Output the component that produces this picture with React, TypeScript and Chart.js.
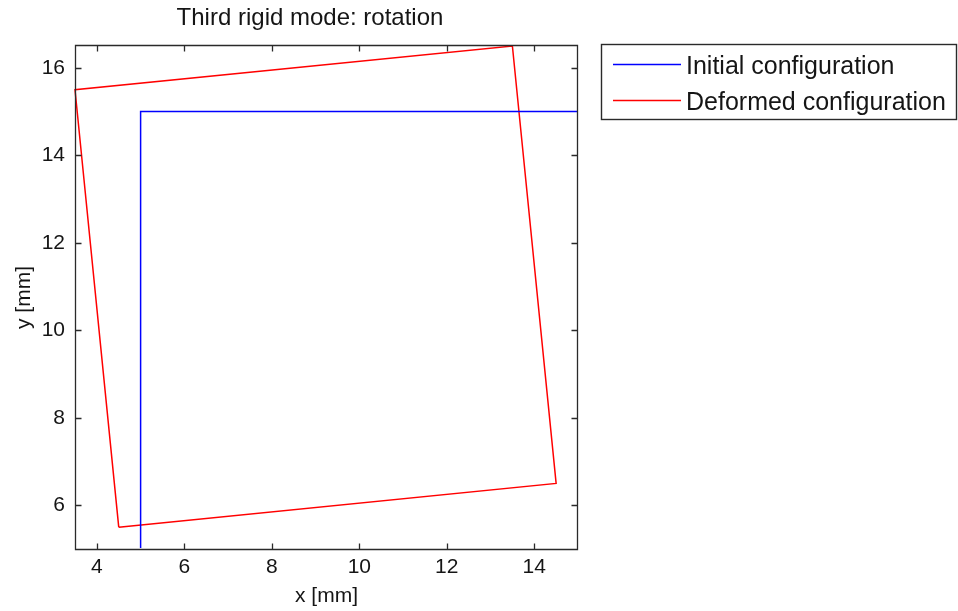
import { useEffect, useRef } from "react";
import { Chart, registerables } from "chart.js";

Chart.register(...registerables);

// Plot text
const TITLE = "Third rigid mode: rotation";
const X_LABEL = "x [mm]";
const Y_LABEL = "y [mm]";

// Axis limits and ticks
const X_RANGE = [3.5, 15];
const Y_RANGE = [5, 16.5];
const X_TICKS = [4, 6, 8, 10, 12, 14];
const Y_TICKS = [6, 8, 10, 12, 14, 16];

// Square element outline, closed polygon (mm)
const INITIAL_LABEL = "Initial configuration";
const INITIAL_X = [5, 15, 15, 5, 5];
const INITIAL_Y = [5, 5, 15, 15, 5];

// Same outline after the rigid rotation mode (mm)
const DEFORMED_LABEL = "Deformed configuration";
const DEFORMED_X = [4.5, 14.5, 13.5, 3.5, 4.5];
const DEFORMED_Y = [5.5, 6.5, 16.5, 15.5, 5.5];

const FONT = "'Liberation Sans', Arial, Helvetica, sans-serif";
const TEXT_COLOR = "#151515";
const AXIS_COLOR = "#2a2a2a";

const toPoints = (xs: number[], ys: number[]) => xs.map((x, i) => ({ x, y: ys[i] }));

// Draws the boxed axes with inward ticks, the title and the boxed legend
const framePlugin = {
  id: "frame",
  afterDatasetsDraw(chart: any) {
    const { ctx, chartArea } = chart;
    const xs = chart.scales.x;
    const ys = chart.scales.y;
    const L = Math.round(chartArea.left) + 0.5;
    const R = Math.round(chartArea.right) - 0.5;
    const T = Math.round(chartArea.top) - 0.5;
    const B = Math.round(chartArea.bottom) + 0.5;
    const tick = 6;
    ctx.save();
    ctx.strokeStyle = AXIS_COLOR;
    ctx.lineWidth = 1.3;
    ctx.beginPath();
    ctx.rect(L, T, R - L, B - T);
    for (const v of X_TICKS) {
      const px = Math.round(xs.getPixelForValue(v)) + 0.5;
      ctx.moveTo(px, B);
      ctx.lineTo(px, B - tick);
      ctx.moveTo(px, T);
      ctx.lineTo(px, T + tick);
    }
    for (const v of Y_TICKS) {
      const py = Math.round(ys.getPixelForValue(v)) + 0.5;
      ctx.moveTo(L, py);
      ctx.lineTo(L + tick, py);
      ctx.moveTo(R, py);
      ctx.lineTo(R - tick, py);
    }
    ctx.stroke();
    ctx.restore();
  },
  afterDraw(chart: any) {
    const { ctx } = chart;
    ctx.save();
    // title
    ctx.fillStyle = TEXT_COLOR;
    ctx.font = `24px ${FONT}`;
    ctx.textAlign = "center";
    ctx.textBaseline = "alphabetic";
    ctx.fillText(TITLE, 310, 25);

    // legend
    const bx = 601.5, by = 44.5, bw = 355, bh = 75;
    ctx.fillStyle = "#ffffff";
    ctx.fillRect(bx, by, bw, bh);
    ctx.strokeStyle = AXIS_COLOR;
    ctx.lineWidth = 1.4;
    ctx.strokeRect(bx, by, bw, bh);
    ctx.font = `25px ${FONT}`;
    ctx.textAlign = "left";
    chart.data.datasets.forEach((ds: any, i: number) => {
      const ly = 64.5 + i * 36;
      ctx.strokeStyle = ds.borderColor;
      ctx.lineWidth = 1.3;
      ctx.beginPath();
      ctx.moveTo(613, ly);
      ctx.lineTo(681, ly);
      ctx.stroke();
      ctx.fillStyle = TEXT_COLOR;
      ctx.fillText(ds.label, 686, 74 + i * 36);
    });
    ctx.restore();
  },
};

export default function App() {
  const canvasRef = useRef<HTMLCanvasElement>(null);

  useEffect(() => {
    const canvas = canvasRef.current;
    if (!canvas) return;
    const tickFont = { family: FONT, size: 21 };
    // lines along the right and bottom limits are hidden under the axes box
    const lineClip = { left: 1, top: 1, right: -1, bottom: -1 };
    const chart = new Chart(canvas, {
      type: "scatter",
      data: {
        datasets: [
          {
            label: INITIAL_LABEL,
            data: toPoints(INITIAL_X, INITIAL_Y),
            borderColor: "#0000ff",
            backgroundColor: "#0000ff",
            borderWidth: 1.5,
            showLine: true,
            pointRadius: 0,
            fill: false,
            clip: lineClip,
          },
          {
            label: DEFORMED_LABEL,
            data: toPoints(DEFORMED_X, DEFORMED_Y),
            borderColor: "#ff0000",
            backgroundColor: "#ff0000",
            borderWidth: 1.5,
            showLine: true,
            pointRadius: 0,
            fill: false,
            clip: lineClip,
          },
        ],
      },
      options: {
        responsive: false,
        maintainAspectRatio: false,
        animation: false,
        events: [],
        layout: { padding: { left: 0, right: 380, top: 46, bottom: 0 } },
        plugins: {
          legend: { display: false },
          title: { display: false },
          tooltip: { enabled: false },
        },
        scales: {
          x: {
            type: "linear",
            position: "bottom",
            min: X_RANGE[0],
            max: X_RANGE[1],
            afterBuildTicks: (s: any) => {
              s.ticks = X_TICKS.map((value) => ({ value }));
            },
            afterFit: (s: any) => {
              s.height = 62;
            },
            grid: { display: false, drawTicks: false },
            border: { display: false },
            ticks: {
              font: tickFont,
              color: TEXT_COLOR,
              padding: 6,
              maxRotation: 0,
              autoSkip: false,
              callback: (v: any) => String(v),
            },
            title: {
              display: true,
              text: X_LABEL,
              font: tickFont,
              color: TEXT_COLOR,
              padding: { top: 0, bottom: 2 },
            },
          },
          y: {
            type: "linear",
            position: "left",
            min: Y_RANGE[0],
            max: Y_RANGE[1],
            afterBuildTicks: (s: any) => {
              s.ticks = Y_TICKS.map((value) => ({ value }));
            },
            afterFit: (s: any) => {
              s.width = 75;
            },
            grid: { display: false, drawTicks: false },
            border: { display: false },
            ticks: {
              font: tickFont,
              color: TEXT_COLOR,
              padding: 10,
              autoSkip: false,
              callback: (v: any) => String(v),
            },
            title: {
              display: true,
              text: Y_LABEL,
              font: tickFont,
              color: TEXT_COLOR,
              padding: { top: 12, bottom: 0 },
            },
          },
        },
      },
      plugins: [framePlugin],
    } as any);
    return () => chart.destroy();
  }, []);

  return (
    <div style={{ position: "absolute", left: 0, top: 0, width: 958, height: 611, background: "#ffffff" }}>
      <canvas ref={canvasRef} width={958} height={611} style={{ display: "block", width: 958, height: 611 }} />
    </div>
  );
}
